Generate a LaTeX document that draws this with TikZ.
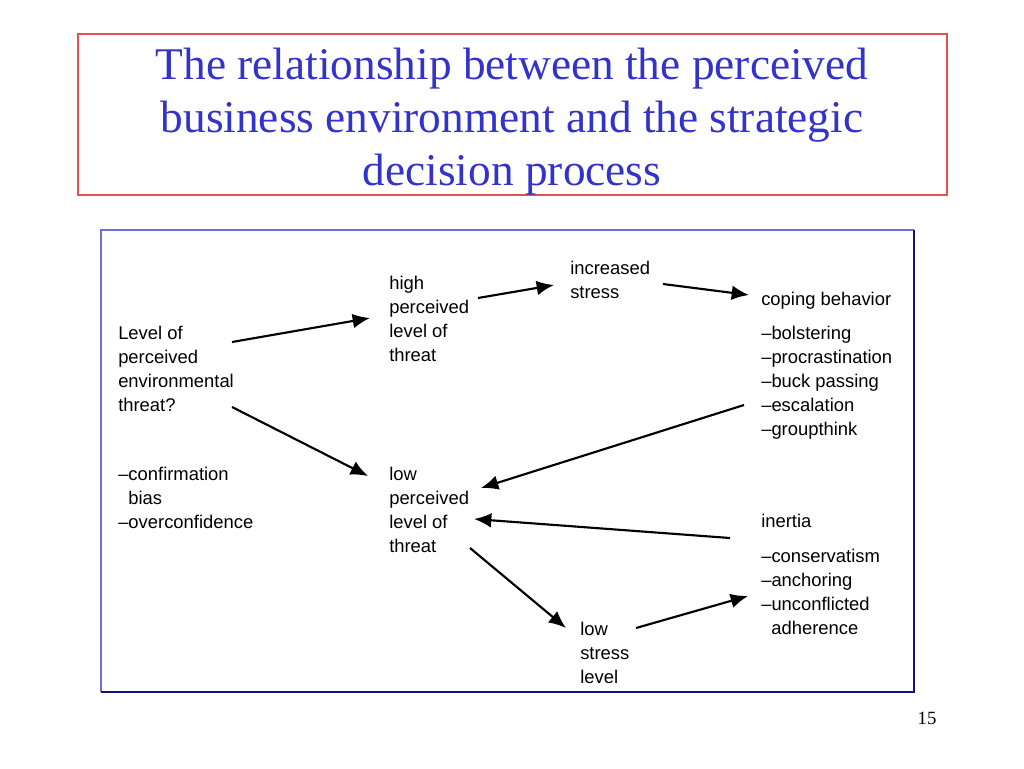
\documentclass[tikz,border=0pt]{standalone}
\usepackage{fontspec}
\setmainfont{Liberation Serif}
\newfontfamily\diagfont{Liberation Sans}
\usetikzlibrary{arrows.meta}
\definecolor{titleblue}{RGB}{51,51,204}
\definecolor{boxred}{RGB}{230,80,80}
\definecolor{lightblue}{RGB}{110,110,220}
\definecolor{darkblue}{RGB}{20,20,120}
\begin{document}
\begin{tikzpicture}[x=0.75pt,y=-0.75pt,
  lbl/.style={font=\diagfont\fontsize{13.8}{18}\selectfont, align=left, anchor=north west, inner sep=0pt},
  arr/.style={line width=1.6pt, -{Latex[length=13pt,width=11pt]}}]
\useasboundingbox (0,0) rectangle (1024,768);
\fill[white] (0,0) rectangle (1024,768);
% title box
\draw[boxred, line width=1pt] (78,34) rectangle (947,195);
\node[text=titleblue, font=\fontsize{34}{39.75}\selectfont, align=center, inner sep=0pt] (title) at (512,122)
  {The relationship between the perceived\\business environment and the strategic\\decision process};
% diagram box
\draw[lightblue, line width=1pt] (101,692) -- (101,230) -- (914,230);
\draw[darkblue, line width=1pt] (914,230) -- (914,692) -- (101,692);
% page number
\node[font=\fontsize{14}{16}\selectfont, inner sep=0pt] (pg) at (927,718) {15};
% nodes
\node[lbl] (level) at (118,326) {Level of\\perceived\\environmental\\threat?};
\node[lbl] (bias) at (118,467) {–confirmation\\\hspace*{0.55em}bias\\–overconfidence};
\node[lbl] (high) at (389,276) {high\\perceived\\level of\\threat};
\node[lbl] (inc) at (570,261) {increased\\stress};
\node[lbl] (coping) at (761,292) {coping behavior};
\node[lbl] (clist) at (761,326) {–bolstering\\–procrastination\\–buck passing\\–escalation\\–groupthink};
\node[lbl] (low) at (389,467) {low\\perceived\\level of\\threat};
\node[lbl] (inertia) at (761,514) {inertia};
\node[lbl] (ilist) at (761,549) {–conservatism\\–anchoring\\–unconflicted\\\hspace*{0.55em}adherence};
\node[lbl] (lstress) at (580,622) {low\\stress\\level};
% connector endpoints
\coordinate (a1s) at (232,342); \coordinate (a1e) at (370,318);
\coordinate (a2s) at (232,407); \coordinate (a2e) at (368,476);
\coordinate (a3s) at (478,298); \coordinate (a3e) at (554,285);
\coordinate (a4s) at (663,284); \coordinate (a4e) at (749,295);
\coordinate (a5s) at (744,405); \coordinate (a5e) at (481,488);
\coordinate (a6s) at (730,538); \coordinate (a6e) at (474,519);
\coordinate (a7s) at (470,548); \coordinate (a7e) at (566,628);
\coordinate (a8s) at (636,628); \coordinate (a8e) at (748,596);
\draw[arr] (a1s) -- (a1e);
\draw[arr] (a2s) -- (a2e);
\draw[arr] (a3s) -- (a3e);
\draw[arr] (a4s) -- (a4e);
\draw[arr] (a5s) -- (a5e);
\draw[arr] (a6s) -- (a6e);
\draw[arr] (a7s) -- (a7e);
\draw[arr] (a8s) -- (a8e);
\end{tikzpicture}
\end{document}
